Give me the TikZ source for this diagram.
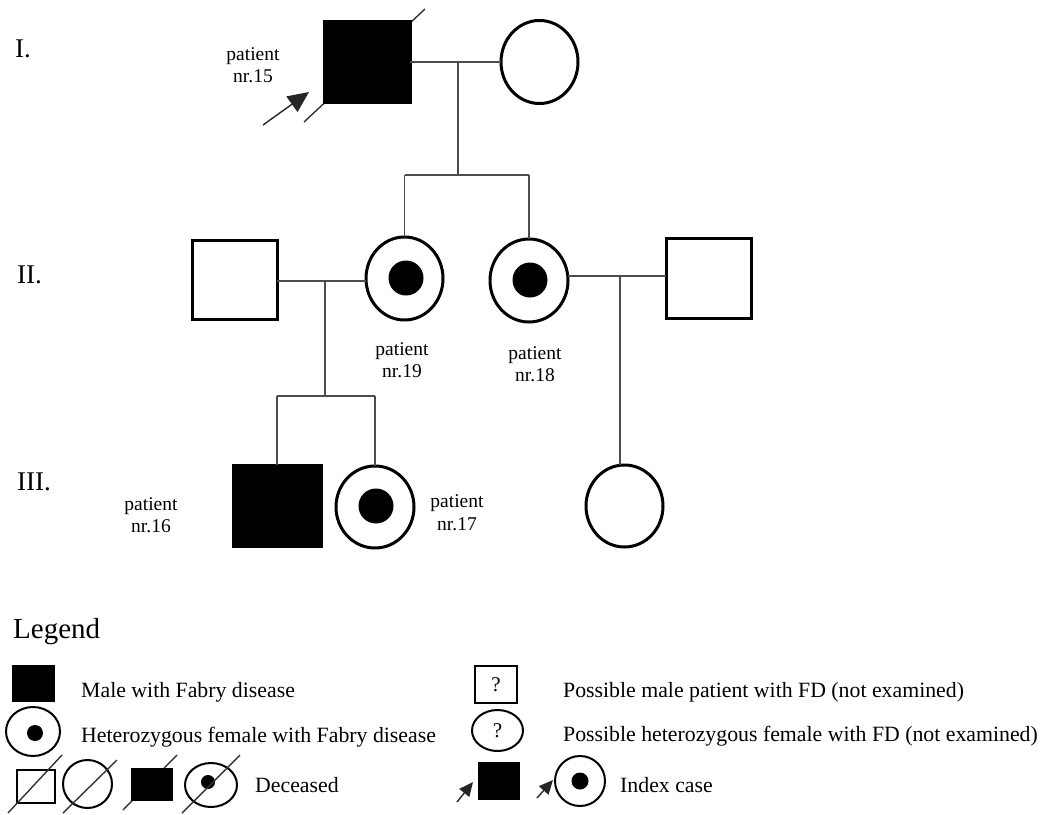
\documentclass[tikz,border=0pt]{standalone}
\usepackage{fontspec}
\setmainfont{Liberation Serif}
\usetikzlibrary{shapes.geometric,arrows.meta}

\tikzset{
  sym/.style={draw=black, line width=3pt, inner sep=0pt, outer sep=0pt},
  lsym/.style={sym, line width=2pt},
  male/.style={rectangle},
  female/.style={ellipse},
  affected/.style={fill=black},
  cdot/.style={circle, fill=black, draw=none, inner sep=0pt, minimum size=#1},
  link/.style={draw=black!70, line width=1.4pt},
  dead/.style={draw=black!80, line width=1.4pt},
  pname/.style={font=\fontsize{19.5}{22.5}\selectfont, align=center, inner sep=0pt},
  gen/.style={font=\fontsize{27}{30}\selectfont, anchor=west, inner sep=0pt},
  ltext/.style={font=\fontsize{21.8}{25}\selectfont, anchor=west, inner sep=0pt},
  probe/.style={-{Triangle[length=#1,width=0.9*#1]}, draw=black!85, line width=1.4pt},
}

\begin{document}
\begin{tikzpicture}[x=1pt, y=-1pt]
\path[use as bounding box, fill=white] (0,0) rectangle (1057,814);

% generation numbers
\node[gen] (gI)   at (15,49)  {I.};
\node[gen] (gII)  at (17,275) {II.};
\node[gen] (gIII) at (17,482) {III.};

% ---------- generation I ----------
\draw[dead] (304,122) -- (425,9);
\node[sym, male, affected, minimum width=86pt, minimum height=81pt] (i1) at (367,62) {};
\node[sym, female, minimum width=77pt, minimum height=83pt] (i2) at (539.5,62) {};
\node[pname] (p15) at (253,65) {patient\\nr.15};
\coordinate (a15t) at (263,125);
\coordinate (a15h) at (309,92);
\draw[probe=21pt] (a15t) -- (a15h);

% ---------- generation II ----------
\node[sym, male, minimum width=85pt, minimum height=79pt] (ii1) at (234.5,280) {};
\node[sym, female, minimum width=77pt, minimum height=83pt] (ii2) at (404.5,278.5) {};
\node[cdot=35pt] (ii2d) at (406,278) {};
\node[sym, female, minimum width=78pt, minimum height=83pt] (ii3) at (529,280.5) {};
\node[cdot=35pt] (ii3d) at (530,280) {};
\node[sym, male, minimum width=85pt, minimum height=80pt] (ii4) at (708.5,278) {};
\node[pname] (p19) at (402,360) {patient\\nr.19};
\node[pname] (p18) at (535,364) {patient\\nr.18};

% ---------- generation III ----------
\node[sym, male, affected, minimum width=88pt, minimum height=81pt] (iii1) at (277,505.5) {};
\node[sym, female, minimum width=78pt, minimum height=82pt] (iii2) at (375,507) {};
\node[cdot=35pt] (iii2d) at (376,506) {};
\node[sym, female, minimum width=77pt, minimum height=82pt] (iii3) at (624.5,506) {};
\node[pname] (p16) at (151,515) {patient\\nr.16};
\node[pname] (p17) at (457,512.5) {patient\\nr.17};

% ---------- lines of descent ----------
\coordinate (mI) at (458,62);
\coordinate (sI) at (458,175);
\draw[link] (i1.east) -- (i2.west);
\draw[link] (mI) -- (sI);
\draw[link] (ii2.north |- sI) -- (ii3.north |- sI);
\draw[link] (ii2.north |- sI) -- (ii2.north);
\draw[link] (ii3.north |- sI) -- (ii3.north);

\coordinate (mIIa) at (325,281);
\coordinate (sIIa) at (325,396);
\draw[link] (ii1.east |- mIIa) -- (ii2.west |- mIIa);
\draw[link] (mIIa) -- (sIIa);
\draw[link] (iii1.north |- sIIa) -- (iii2.north |- sIIa);
\draw[link] (iii1.north |- sIIa) -- (iii1.north);
\draw[link] (iii2.north |- sIIa) -- (iii2.north);

\coordinate (mIIb) at (620,276);
\draw[link] (ii3.east |- mIIb) -- (ii4.west |- mIIb);
\draw[link] (mIIb) -- (mIIb |- iii3.north);

% ---------- legend ----------
\node[gen, font=\fontsize{29}{32}\selectfont] (leg) at (13,632) {Legend};

\node[lsym, male, affected, minimum width=41pt, minimum height=35pt] (l1) at (33.5,683.5) {};
\node[ltext] (l1t) at (81,692) {Male with Fabry disease};

\node[lsym, female, minimum width=54pt, minimum height=49pt] (l2) at (33,731.5) {};
\node[cdot=16pt] (l2d) at (35,733) {};
\node[ltext] (l2t) at (81,737) {Heterozygous female with Fabry disease};

\node[lsym, male, minimum width=38pt, minimum height=33pt] (l3a) at (36,786.5) {};
\draw[dead] (8,813) -- (62,755);
\node[lsym, female, minimum width=49pt, minimum height=48pt] (l3b) at (87.5,784) {};
\draw[dead] (63,813) -- (117,760);
\draw[dead] (123,810) -- (177,755);
\node[lsym, male, affected, minimum width=40pt, minimum height=31pt] (l3c) at (152,784.5) {};
\node[lsym, female, minimum width=52pt, minimum height=44pt] (l3d) at (211,785) {};
\node[cdot=14pt] (l3dd) at (208,782) {};
\draw[dead] (182,813) -- (240,755);
\node[ltext] (l3t) at (255,785) {Deceased};

\node[lsym, male, minimum width=42pt, minimum height=37pt, font=\fontsize{21}{23}\selectfont] (r1) at (496,684.5) {?};
\node[ltext] (r1t) at (563,692) {Possible male patient with FD (not examined)};

\node[lsym, female, minimum width=51pt, minimum height=41pt, font=\fontsize{21}{23}\selectfont] (r2) at (497.5,730.5) {?};
\node[ltext] (r2t) at (563,736) {Possible heterozygous female with FD (not examined)};

\node[lsym, male, affected, minimum width=40pt, minimum height=36pt] (r3a) at (499,781) {};
\coordinate (r3at) at (457,802);
\coordinate (r3ah) at (473,782);
\draw[probe=14pt] (r3at) -- (r3ah);
\node[lsym, female, minimum width=50pt, minimum height=50pt] (r3b) at (580,781) {};
\node[cdot=17pt] (r3bd) at (580,781) {};
\coordinate (r3bt) at (537,798);
\coordinate (r3bh) at (553,780);
\draw[probe=14pt] (r3bt) -- (r3bh);
\node[ltext] (r3t) at (620,785) {Index case};
\end{tikzpicture}
\end{document}
